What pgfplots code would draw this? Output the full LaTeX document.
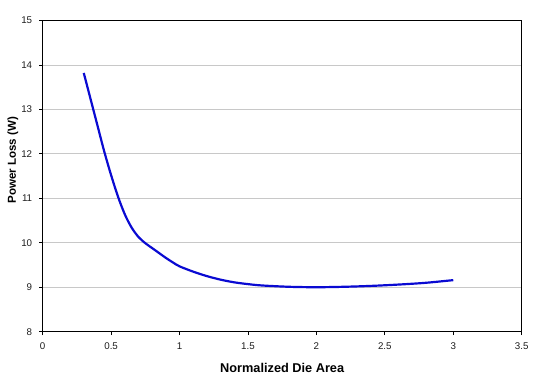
\documentclass[border=0pt]{standalone}
\usepackage{fontspec}
\setmainfont{Liberation Sans}
\usepackage{pgfplots}
\pgfplotsset{compat=1.18}
\usetikzlibrary{calc}
\definecolor{curve}{RGB}{10,10,210}
\definecolor{gridc}{RGB}{200,200,200}
\definecolor{tickc}{RGB}{30,30,30}
\begin{document}
\begin{tikzpicture}
\begin{axis}[
  scale only axis,
  width=479bp, height=311.2bp,
  xmin=0, xmax=3.5, ymin=8, ymax=15,
  xtick={0,0.5,1,1.5,2,2.5,3,3.5},
  xticklabels={0,0.5,1,1.5,2,2.5,3,3.5},
  ytick={8,9,10,11,12,13,14,15},
  ymajorgrids,
  grid style={gridc, line width=0.9pt},
  axis line style={black, line width=1.4pt},
  tick style={black, line width=0.8pt},
  tick align=outside,
  major tick length=3.5bp,
  xtick pos=left, ytick pos=left,
  /pgf/number format/assume math mode=true,
  tick label style={font=\fontsize{9.8}{11}\selectfont, text=tickc},
  xticklabel style={yshift=-4bp},
  yticklabel style={xshift=-3.5bp},
  xlabel={\textbf{Normalized Die Area}},
  ylabel={\textbf{Power Loss (W)}},
  xlabel style={font=\fontsize{12.8}{14}\selectfont, at={(axis description cs:0.5,-0.1157)}, anchor=center},
  ylabel style={font=\fontsize{11.6}{13}\selectfont, at={(axis description cs:-0.0624,0.551)}, anchor=center},
]
\addplot[curve, line width=2.2pt, smooth, tension=0.5] coordinates {
(0.30,13.82) (0.35,13.23) (0.40,12.64) (0.45,12.05) (0.50,11.52)
(0.55,11.04) (0.60,10.64) (0.65,10.34) (0.70,10.13) (0.75,9.99)
(0.80,9.88) (0.85,9.77) (0.90,9.66) (0.95,9.56) (1.00,9.47)
(1.10,9.35) (1.20,9.25) (1.30,9.17) (1.40,9.11) (1.50,9.07)
(1.60,9.04) (1.80,9.01) (2.00,9.00) (2.20,9.01) (2.40,9.03)
(2.60,9.06) (2.80,9.10) (3.00,9.16)
};
\end{axis}
\path ($(current axis.south west)+(-42.7bp,-47.3bp)$) rectangle ($(current axis.north east)+(18.3bp,20.5bp)$);
\end{tikzpicture}
\end{document}
